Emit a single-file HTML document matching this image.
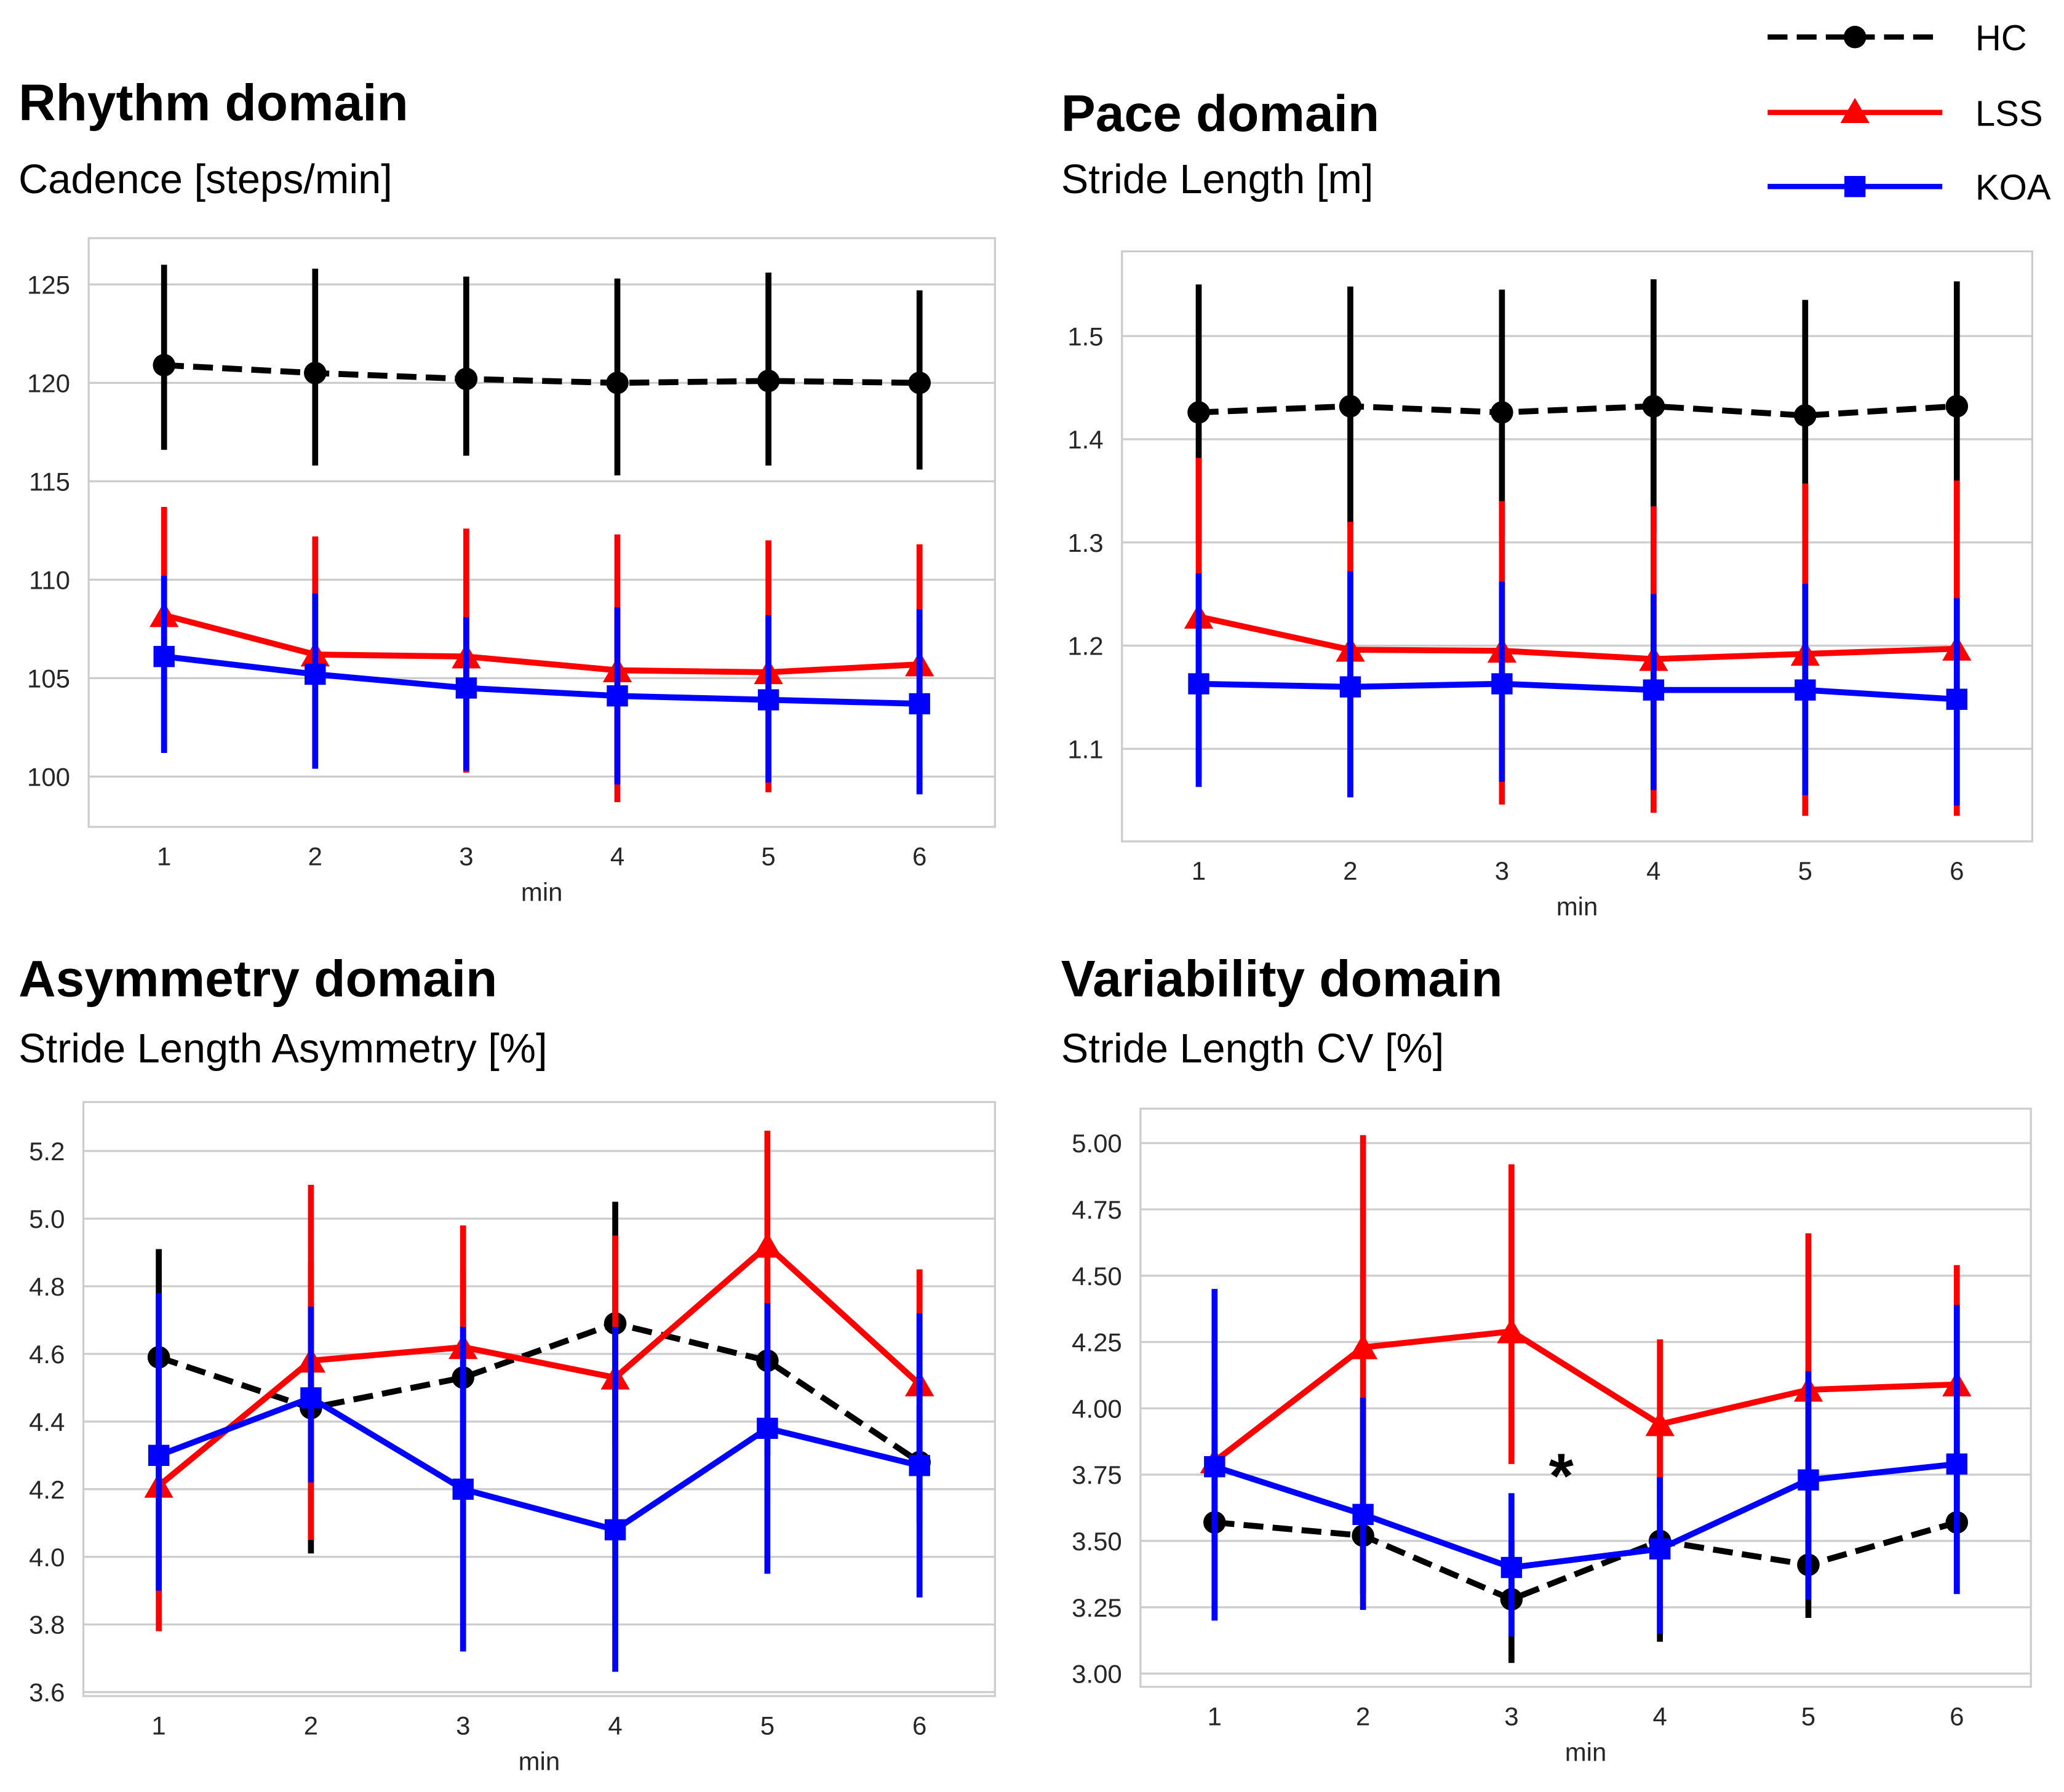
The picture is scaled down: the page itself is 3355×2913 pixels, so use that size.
<!DOCTYPE html>
<html><head><meta charset="utf-8"><title>Gait domains</title>
<style>html,body{margin:0;padding:0;background:#fff}svg{display:block}</style></head>
<body>
<svg id="fig" xmlns="http://www.w3.org/2000/svg" width="3355" height="2913" viewBox="0 0 1560 1354.5" font-family="'Liberation Sans', Arial, sans-serif">
<rect width="1560" height="1354.5" fill="#fff"/>
<g id="legend">
  <g>
    <line x1="1336" y1="28" x2="1468" y2="28" stroke="#000" stroke-width="4" stroke-dasharray="15,7"/>
    <circle cx="1402" cy="28" r="8.5" fill="#000"/>
    <text x="1493" y="38" font-size="27">HC</text>
  </g>
  <g>
    <line x1="1336" y1="85" x2="1468" y2="85" stroke="#f00" stroke-width="4"/>
    <polygon points="1402,74 1413,93 1391,93" fill="#f00"/>
    <text x="1493" y="95" font-size="27">LSS</text>
  </g>
  <g>
    <line x1="1336" y1="141" x2="1468" y2="141" stroke="#00f" stroke-width="4"/>
    <rect x="1394" y="133" width="16" height="16" fill="#00f"/>
    <text x="1493" y="151" font-size="27">KOA</text>
  </g>
</g>
</svg>
<script>
// ---- Data ----
const minutes = [1,2,3,4,5,6];
// Rhythm: Cadence
const cadTicks = [100,105,110,115,120,125];
const cadHC = [120.9,120.5,120.2,120.0,120.1,120.0];
const cadHClo = [116.6,115.8,116.3,115.3,115.8,115.6];
const cadHChi = [126.0,125.8,125.4,125.3,125.6,124.7];
const cadLSS = [108.2,106.2,106.1,105.4,105.3,105.7];
const cadLSSlo = [101.3,100.5,100.2,98.7,99.2,99.2];
const cadLSShi = [113.7,112.2,112.6,112.3,112.0,111.8];
const cadKOA = [106.1,105.2,104.5,104.1,103.9,103.7];
const cadKOAlo = [101.2,100.4,100.3,99.6,99.7,99.1];
const cadKOAhi = [110.2,109.3,108.1,108.6,108.2,108.5];
// Pace: Stride length
const slTicks = [1.1,1.2,1.3,1.4,1.5];
const slHC = [1.426,1.432,1.426,1.432,1.423,1.432];
const slHClo = [1.30,1.316,1.307,1.309,1.311,1.311];
const slHChi = [1.55,1.548,1.545,1.555,1.535,1.553];
const slLSS = [1.228,1.196,1.195,1.187,1.192,1.197];
const slLSSlo = [1.07,1.053,1.046,1.038,1.035,1.035];
const slLSShi = [1.382,1.32,1.34,1.335,1.357,1.36];
const slKOA = [1.163,1.160,1.163,1.157,1.157,1.148];
const slKOAlo = [1.063,1.053,1.068,1.060,1.055,1.045];
const slKOAhi = [1.27,1.272,1.262,1.25,1.26,1.246];
// Asymmetry
const asTicks = [3.6,3.8,4.0,4.2,4.4,4.6,4.8,5.0,5.2];
const asHC = [4.59,4.44,4.53,4.69,4.58,4.28];
const asHClo = [4.28,4.01,4.20,4.33,4.30,4.10];
const asHChi = [4.91,4.87,4.85,5.05,4.86,4.45];
const asLSS = [4.21,4.58,4.62,4.53,4.92,4.51];
const asLSSlo = [3.78,4.05,4.25,4.10,4.58,4.17];
const asLSShi = [4.60,5.10,4.98,4.95,5.26,4.85];
const asKOA = [4.30,4.47,4.20,4.08,4.38,4.27];
const asKOAlo = [3.90,4.22,3.72,3.66,3.95,3.88];
const asKOAhi = [4.78,4.74,4.68,4.68,4.75,4.72];
// Variability
const cvTicks = [3.00,3.25,3.50,3.75,4.00,4.25,4.50,4.75,5.00];
const cvHC = [3.57,3.52,3.28,3.50,3.41,3.57];
const cvHClo = [3.20,3.30,3.04,3.12,3.21,3.30];
const cvHChi = [3.90,3.80,3.50,3.90,3.60,3.85];
const cvLSS = [3.80,4.23,4.29,3.94,4.07,4.09];
const cvLSSlo = [3.50,3.43,3.79,3.62,3.50,3.65];
const cvLSShi = [4.10,5.03,4.92,4.26,4.66,4.54];
const cvKOA = [3.78,3.60,3.40,3.47,3.73,3.79];
const cvKOAlo = [3.20,3.24,3.14,3.15,3.28,3.30];
const cvKOAhi = [4.45,4.04,3.68,3.74,4.14,4.39];

const NS = 'http://www.w3.org/2000/svg';
const svg = document.getElementById('fig');
function mk(tag, attrs, parent){const e=document.createElementNS(NS,tag);for(const k in attrs)e.setAttribute(k,attrs[k]);(parent||svg).appendChild(e);return e;}

function panel(cfg){
  const g = mk('g',{});
  
  
  const t = mk('text',{x:cfg.tx,y:cfg.ty,'font-size':39,'font-weight':'bold'},g); t.textContent=cfg.title;
  
  
  const s = mk('text',{x:cfg.tx,y:cfg.sy,'font-size':31},g); s.textContent=cfg.sub;
  
  
  const fx=cfg.fx0, fw=cfg.fx1-cfg.fx0;
  const ys = v => cfg.py0 + (v-cfg.v0)*(cfg.py1-cfg.py0)/(cfg.v1-cfg.v0);
  const xs = m => cfg.px0 + (m-1)*(cfg.px1-cfg.px0)/5;
  mk('rect',{x:fx,y:cfg.fy0,width:fw,height:cfg.fy1-cfg.fy0,fill:'#fff',stroke:'#ccc','stroke-width':1.5},g);
  cfg.ticks.forEach(v=>{
    const y=ys(v);
    const gl=mk('line',{x1:fx,x2:cfg.fx1,y1:y,y2:y,stroke:'#ccc','stroke-width':1.5},g);
    
    
    const tl=mk('text',{x:fx-14,y:y+7,'font-size':19.5,'text-anchor':'end',fill:'#262626'},g);
    tl.textContent=v.toFixed(cfg.dec);
    
    
  });
  minutes.forEach(m=>{
    const tl=mk('text',{x:xs(m),y:cfg.fy1+29,'font-size':19.5,'text-anchor':'middle',fill:'#262626'},g);
    tl.textContent=m;
    
    
  });
  const xl=mk('text',{x:(cfg.fx0+cfg.fx1)/2,y:cfg.fy1+56,'font-size':19.5,'text-anchor':'middle',fill:'#262626'},g);
  xl.textContent='min';
  
  
  const series=[
    {k:'hc',c:'#000',m:cfg.hc,lo:cfg.hclo,hi:cfg.hchi,dash:'15,7',mark:'circle'},
    {k:'lss',c:'#f00',m:cfg.lss,lo:cfg.lsslo,hi:cfg.lsshi,dash:null,mark:'tri'},
    {k:'koa',c:'#00f',m:cfg.koa,lo:cfg.koalo,hi:cfg.koahi,dash:null,mark:'sq'}];
  series.forEach(S=>{
    const sg=mk('g',{},g);
    
    
    minutes.forEach((m,i)=>{
      const eb=mk('line',{x1:xs(m),x2:xs(m),y1:ys(S.lo[i]),y2:ys(S.hi[i]),stroke:S.c,'stroke-width':4.5},sg);
      
      
    });
    const pts=minutes.map((m,i)=>xs(m)+','+ys(S.m[i])).join(' ');
    const pl=mk('polyline',{points:pts,fill:'none',stroke:S.c,'stroke-width':4.5},sg);
    if(S.dash) pl.setAttribute('stroke-dasharray',S.dash);
    
    
    minutes.forEach((m,i)=>{
      const x=xs(m), y=ys(S.m[i]); let mkEl;
      if(S.mark==='circle') mkEl=mk('circle',{cx:x,cy:y,r:8.5,fill:S.c},sg);
      else if(S.mark==='tri') mkEl=mk('polygon',{points:`${x},${y-10} ${x+11},${y+9} ${x-11},${y+9}`,fill:S.c},sg);
      else mkEl=mk('rect',{x:x-8,y:y-8,width:16,height:16,fill:S.c},sg);
      
      
    });
  });
  return {g,xs,ys};
}

panel({name:'rhythm-panel',title:'Rhythm domain',sub:'Cadence [steps/min]',tx:14,ty:91,sy:146,
  fx0:67,fx1:752,fy0:180,fy1:625,px0:124,px1:695,v0:125,py0:215,v1:100,py1:587,ticks:cadTicks,dec:0,
  hc:cadHC,hclo:cadHClo,hchi:cadHChi,lss:cadLSS,lsslo:cadLSSlo,lsshi:cadLSShi,koa:cadKOA,koalo:cadKOAlo,koahi:cadKOAhi});
panel({name:'pace-panel',title:'Pace domain',sub:'Stride Length [m]',tx:802,ty:99,sy:146,
  fx0:848,fx1:1536,fy0:190,fy1:636,px0:906,px1:1479,v0:1.5,py0:254,v1:1.1,py1:566,ticks:slTicks,dec:1,
  hc:slHC,hclo:slHClo,hchi:slHChi,lss:slLSS,lsslo:slLSSlo,lsshi:slLSShi,koa:slKOA,koalo:slKOAlo,koahi:slKOAhi});
panel({name:'asymmetry-panel',title:'Asymmetry domain',sub:'Stride Length Asymmetry [%]',tx:14,ty:753,sy:803,
  fx0:63,fx1:752,fy0:833,fy1:1282,px0:120,px1:695,v0:5.2,py0:870,v1:3.6,py1:1279,ticks:asTicks,dec:1,
  hc:asHC,hclo:asHClo,hchi:asHChi,lss:asLSS,lsslo:asLSSlo,lsshi:asLSShi,koa:asKOA,koalo:asKOAlo,koahi:asKOAhi});
const v = panel({name:'variability-panel',title:'Variability domain',sub:'Stride Length CV [%]',tx:802,ty:753,sy:803,
  fx0:862,fx1:1535,fy0:838,fy1:1275,px0:918,px1:1479,v0:5.0,py0:864,v1:3.0,py1:1265,ticks:cvTicks,dec:2,
  hc:cvHC,hclo:cvHClo,hchi:cvHChi,lss:cvLSS,lsslo:cvLSSlo,lsshi:cvLSShi,koa:cvKOA,koalo:cvKOAlo,koahi:cvKOAhi});
const star = mk('text',{x:1180,y:1132,'font-size':48,'font-weight':'bold','text-anchor':'middle'},v.g);
star.textContent='*';


</script>
</body></html>
